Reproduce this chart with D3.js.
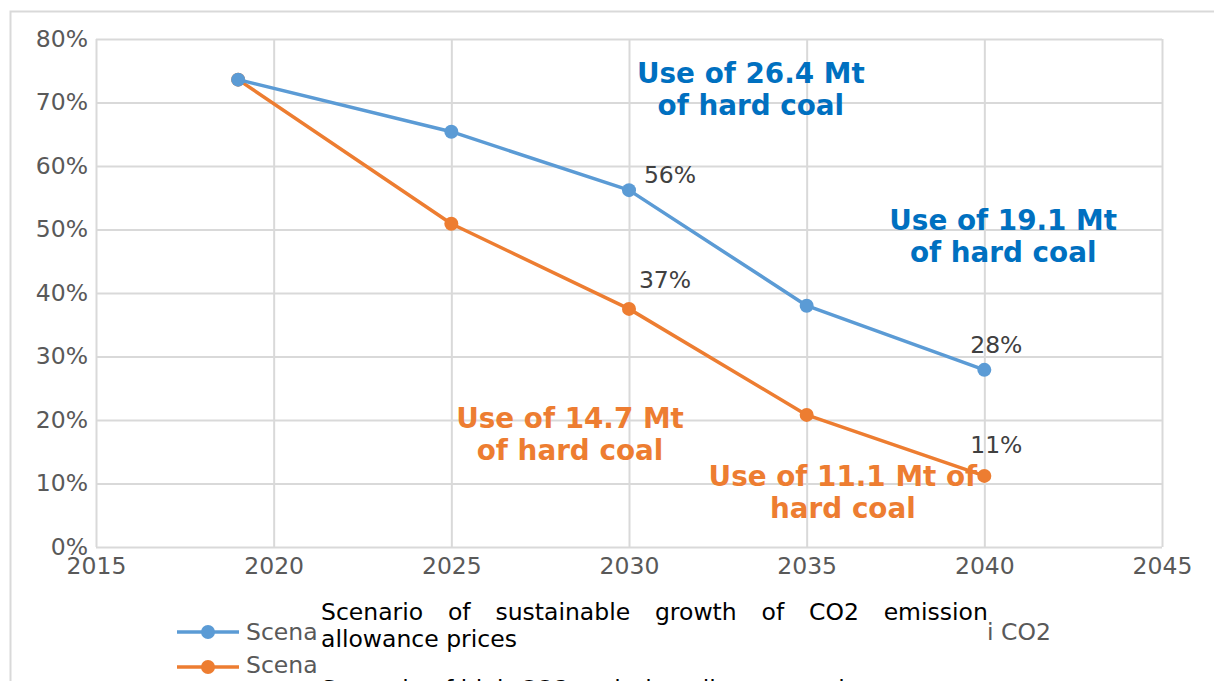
<!DOCTYPE html>
<html>
<head>
<meta charset="utf-8">
<script src="https://cdn.jsdelivr.net/npm/d3@7"></script>
<style>
  html, body { margin: 0; padding: 0; background: #fff; overflow: hidden; }
  text { font-family: "DejaVu Sans", sans-serif; }
</style>
</head>
<body>
<svg id="chart" width="1214" height="681"></svg>
<script>
// data
const years = [2019, 2025, 2030, 2035, 2040];
const sustainableValues = [0.736, 0.654, 0.562, 0.380, 0.279];
const highValues = [0.736, 0.509, 0.375, 0.208, 0.112];
const xTickValues = [2015, 2020, 2025, 2030, 2035, 2040, 2045];
const yTickValues = [0, 0.1, 0.2, 0.3, 0.4, 0.5, 0.6, 0.7, 0.8];

// labels shown next to some points
const pointLabels = [
  { series: "sustainable", year: 2030, text: "56%" },
  { series: "sustainable", year: 2040, text: "28%" },
  { series: "high", year: 2030, text: "37%" },
  { series: "high", year: 2040, text: "11%" }
];
// callouts, anchored in data units (year, share)
const calloutLines = [
  ["Use of 26.4 Mt", "of hard coal"],
  ["Use of 19.1 Mt", "of hard coal"],
  ["Use of 14.7 Mt", "of hard coal"],
  ["Use of 11.1 Mt of", "hard coal"]
];
const calloutSeries = ["sustainable", "sustainable", "high", "high"];
const calloutAnchors = [[2033.43, 0.731], [2040.53, 0.499], [2028.34, 0.187], [2036.02, 0.096]];

const legendNames = [
  "Scenario of sustainable growth of CO2 emission allowance prices",
  "Scenario of high CO2 emission allowance prices"
];

const colors = { sustainable: "#5B9BD5", high: "#ED7D31" };
const calloutColors = { sustainable: "#0070C0", high: "#ED7D31" };

const svg = d3.select("#chart");
const margin = { left: 96, top: 39, right: 1162, bottom: 547 };

// outer chart border
svg.append("rect")
  .attr("x", 10.5).attr("y", 11.5)
  .attr("width", 1240).attr("height", 700)
  .attr("fill", "#fff")
  .attr("stroke", "#d9d9d9").attr("stroke-width", 2);

const x = d3.scaleLinear().domain([2015, 2045]).range([margin.left, margin.right]);
const y = d3.scaleLinear().domain([0, 0.8]).range([margin.bottom, margin.top]);

// gridlines
const g = svg.append("g");
g.append("g")
  .attr("transform", "translate(" + margin.left + ",0)")
  .call(d3.axisLeft(y).tickValues(yTickValues).tickSize(-(margin.right - margin.left))
    .tickFormat(d => Math.round(d * 100) + "%").tickPadding(8))
  .call(a => a.select(".domain").remove())
  .call(a => a.selectAll("line").attr("stroke", "#d9d9d9").attr("stroke-width", 2))
  .call(a => a.selectAll("text").attr("fill", "#595959").style("font-size", "23.5px")
    .style("font-family", "DejaVu Sans").attr("dy", "0.3em"));

g.append("g")
  .attr("transform", "translate(0," + margin.bottom + ")")
  .call(d3.axisBottom(x).tickValues(xTickValues).tickSize(-(margin.bottom - margin.top))
    .tickFormat(d3.format("d")).tickPadding(10))
  .call(a => a.select(".domain").remove())
  .call(a => a.selectAll("line").attr("stroke", "#d9d9d9").attr("stroke-width", 2))
  .call(a => a.selectAll("text").attr("fill", "#595959").style("font-size", "23.5px")
    .style("font-family", "DejaVu Sans"));

// callouts (under the lines)
calloutLines.forEach(function(lines, i) {
  const t = svg.append("text")
    .attr("x", x(calloutAnchors[i][0]))
    .attr("y", y(calloutAnchors[i][1]))
    .attr("text-anchor", "middle")
    .attr("fill", calloutColors[calloutSeries[i]])
    .style("font-size", "27.8px")
    .style("font-weight", "bold");
  lines.forEach(function(l, j) {
    t.append("tspan").attr("x", x(calloutAnchors[i][0])).attr("dy", j === 0 ? 0 : 32).text(l);
  });
});

const series = [
  { key: "sustainable", values: sustainableValues },
  { key: "high", values: highValues }
];

const line = d3.line()
  .x(d => x(d[0]))
  .y(d => y(d[1]));

series.slice().reverse().forEach(function(s) {
  const pts = years.map((yr, i) => [yr, s.values[i]]);
  svg.append("path")
    .datum(pts)
    .attr("fill", "none")
    .attr("stroke", colors[s.key])
    .attr("stroke-width", 3.5)
    .attr("stroke-linejoin", "round")
    .attr("d", line);
  svg.selectAll(null)
    .data(pts)
    .enter().append("circle")
    .attr("cx", d => x(d[0]))
    .attr("cy", d => y(d[1]))
    .attr("r", 7)
    .attr("fill", colors[s.key]);
});

// point labels
const labelOffsets = { "56%": [41, -7], "37%": [36, -21], "28%": [12, -17], "11%": [12, -23] };
pointLabels.forEach(function(p) {
  const vals = p.series === "sustainable" ? sustainableValues : highValues;
  const v = vals[years.indexOf(p.year)];
  const off = labelOffsets[p.text];
  svg.append("text")
    .attr("x", x(p.year) + off[0])
    .attr("y", y(v) + off[1])
    .attr("text-anchor", "middle")
    .attr("fill", "#404040")
    .style("font-size", "23.5px")
    .text(p.text);
});

// legend
const legendY = [632, 667];
const legendTextY = [640, 673];
series.forEach(function(s, i) {
  svg.append("line")
    .attr("x1", 177).attr("x2", 239)
    .attr("y1", legendY[i]).attr("y2", legendY[i])
    .attr("stroke", colors[s.key]).attr("stroke-width", 3.5);
  svg.append("circle")
    .attr("cx", 208).attr("cy", legendY[i]).attr("r", 7)
    .attr("fill", colors[s.key]);
  svg.append("text")
    .attr("x", 246).attr("y", legendTextY[i])
    .attr("fill", "#595959")
    .style("font-size", "23.5px")
    .text(legendNames[i].slice(0, 5));
});
svg.append("text")
  .attr("x", 987).attr("y", 640)
  .attr("fill", "#595959")
  .style("font-size", "23.5px")
  .text("i CO2");

// overlapping caption text, first line justified by word spacing
const caption = svg.append("g").attr("fill", "#000").style("font-size", "23.5px");
const first = caption.append("text")
  .attr("x", 321).attr("y", 620)
  .text("Scenario of sustainable growth of CO2 emission");
const targetWidth = 667;
let spacing = 0;
for (let k = 0; k < 4; k++) {
  const w = first.node().getBBox().width;
  spacing += (targetWidth - w) / 5;
  first.style("word-spacing", spacing + "px");
}
caption.append("text")
  .attr("x", 321).attr("y", 647)
  .text("allowance prices");
caption.append("text")
  .attr("x", 321).attr("y", 697)
  .text(legendNames[1]);
</script>
</body>
</html>
